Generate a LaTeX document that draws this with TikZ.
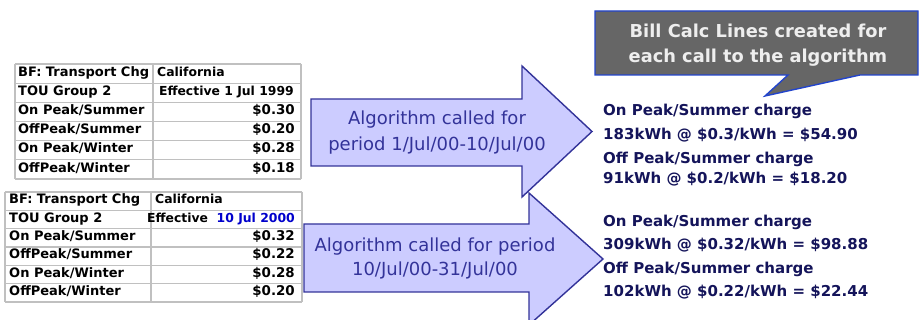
\documentclass[tikz,border=0pt]{standalone}
\usepackage{fontspec}
\setmainfont{DejaVu Sans}
\definecolor{arrowfill}{RGB}{204,204,255}
\definecolor{arrowline}{RGB}{51,51,153}
\definecolor{arrowtxt}{RGB}{51,51,153}
\definecolor{callfill}{RGB}{102,102,102}
\definecolor{callline}{RGB}{34,68,204}
\definecolor{calltxt}{RGB}{238,238,238}
\definecolor{restxt}{RGB}{20,20,90}
\definecolor{gridgray}{RGB}{192,192,192}
\definecolor{effblue}{RGB}{0,0,204}
\tikzset{
  gridline/.style={draw=gridgray, line width=1.3pt},
  cell/.style={inner sep=0pt, font=\bfseries\fontsize{13.4}{15}\selectfont, text=black},
  labelcell/.style={inner sep=0pt, font=\bfseries\fontsize{13}{15}\selectfont, text=black},
  headcell/.style={inner sep=0pt, font=\bfseries\fontsize{12.4}{14}\selectfont, text=black},
  bigarrow/.style={fill=arrowfill, draw=arrowline, line width=1.4pt, line join=miter},
  arrowlabel/.style={inner sep=0pt, text=arrowtxt, font=\fontsize{18}{24}\selectfont, anchor=base},
  callbox/.style={fill=callfill, draw=callline, line width=1.4pt},
  calllabel/.style={inner sep=0pt, text=calltxt, font=\bfseries\fontsize{17.8}{24}\selectfont, anchor=base},
  reslabel/.style={inner sep=0pt, text=restxt, font=\bfseries\fontsize{15}{18}\selectfont, anchor=base west}
}
\begin{document}
\begin{tikzpicture}[x=1pt,y=-1pt]
\useasboundingbox (0,0) rectangle (919,320);
\fill[white] (0,0) rectangle (919,320);

% ---------- Table 1 ----------
\foreach \i in {0,...,6} {\draw[gridline] (15,{64+\i*19.17}) -- (301,{64+\i*19.17});}
\draw[gridline] (15,64) -- (15,179);
\draw[gridline] (153,64) -- (153,179);
\draw[gridline] (301,64) -- (301,179);
\foreach \lbl [count=\i from 0] in {BF: Transport Chg, TOU Group 2, On Peak/Summer, OffPeak/Summer, On Peak/Winter, OffPeak/Winter}
  {\node[labelcell, anchor=mid west] (ta\i) at (18,{64+(\i+0.5)*19.17}) {\lbl};}
\node[headcell, anchor=mid west] (tav0) at (157,{64+0.5*19.17}) {California};
\node[headcell, anchor=mid east] (tav1) at (294,{64+1.5*19.17}) {Effective 1 Jul 1999};
\foreach \v [count=\i from 2] in {\$0.30, \$0.20, \$0.28, \$0.18}
  {\node[cell, anchor=mid east] (tav\i) at (295,{64+(\i+0.5)*19.17}) {\v};}

% ---------- Table 2 ----------
\foreach \i in {0,...,6} {\draw[gridline] (5,{192+\i*18.33}) -- (302,{192+\i*18.33});}
\draw[gridline] (5,192) -- (5,302);
\draw[gridline] (151,192) -- (151,302);
\draw[gridline] (302,192) -- (302,302);
\foreach \lbl [count=\i from 0] in {BF: Transport Chg, TOU Group 2, On Peak/Summer, OffPeak/Summer, On Peak/Winter, OffPeak/Winter}
  {\node[labelcell, anchor=mid west] (tb\i) at (9,{192+(\i+0.5)*18.33}) {\lbl};}
\node[headcell, anchor=mid west] (tbv0) at (155,{192+0.5*18.33}) {California};
\node[headcell, anchor=mid east] (tbv1) at (295,{192+1.5*18.33}) {Effective\ \ \textcolor{effblue}{10 Jul 2000}};
\foreach \v [count=\i from 2] in {\$0.32, \$0.22, \$0.28, \$0.20}
  {\node[cell, anchor=mid east] (tbv\i) at (295,{192+(\i+0.5)*18.33}) {\v};}

% ---------- Arrows ----------
\draw[bigarrow] (311,99) -- (522,99) -- (522,66) -- (592,131.5) -- (522,197) -- (522,166) -- (311,166) -- cycle;
\node[arrowlabel] (a1l1) at (437,125) {Algorithm called for};
\node[arrowlabel] (a1l2) at (437,150.7) {period 1/Jul/00-10/Jul/00};

\draw[bigarrow] (304,224) -- (529,224) -- (529,193) -- (603,259) -- (529,325) -- (529,292) -- (304,292) -- cycle;
\node[arrowlabel] (a2l1) at (435,251.7) {Algorithm called for period};
\node[arrowlabel] (a2l2) at (435,276) {10/Jul/00-31/Jul/00};

% ---------- Callout ----------
\draw[callbox] (595,11) -- (918,11) -- (918,75) -- (860,75) -- (765,96) -- (788,75) -- (595,75) -- cycle;
\node[calllabel] (c1) at (758,37.3) {Bill Calc Lines created for};
\node[calllabel] (c2) at (758,63) {each call to the algorithm};

% ---------- Results ----------
\node[reslabel] (r1) at (603,116) {On Peak/Summer charge};
\node[reslabel] (r2) at (603,139.3) {183kWh @ \$0.3/kWh = \$54.90};
\node[reslabel] (r3) at (603,164) {Off Peak/Summer charge};
\node[reslabel] (r4) at (603,184) {91kWh @ \$0.2/kWh = \$18.20};
\node[reslabel] (r5) at (603,226.7) {On Peak/Summer charge};
\node[reslabel] (r6) at (603,250) {309kWh @ \$0.32/kWh = \$98.88};
\node[reslabel] (r7) at (603,274) {Off Peak/Summer charge};
\node[reslabel] (r8) at (603,296.7) {102kWh @ \$0.22/kWh = \$22.44};
\end{tikzpicture}
\end{document}
